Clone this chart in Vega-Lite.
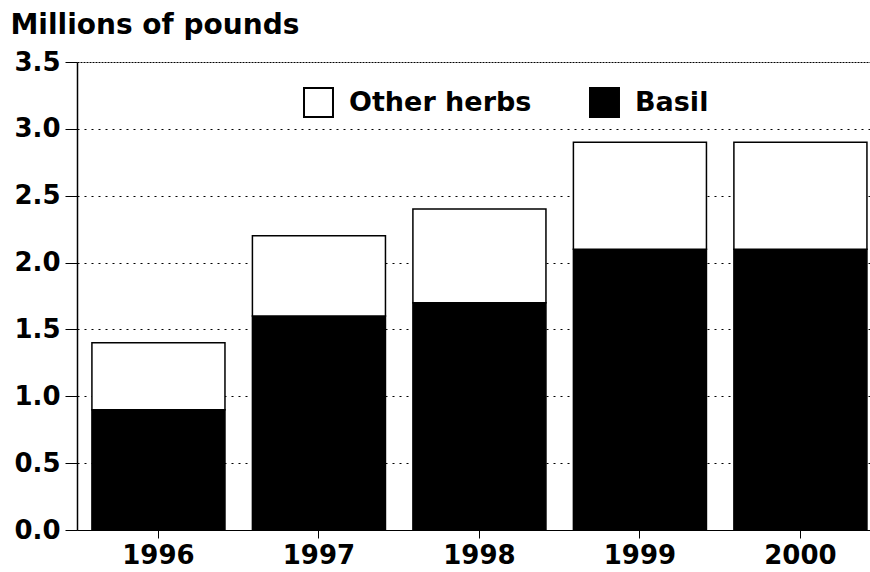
{
  "$schema": "https://vega.github.io/schema/vega-lite/v6.json",
  "width": 793,
  "height": 468,
  "autosize": "none",
  "padding": {"left": 77, "top": 62, "right": 0, "bottom": 42},
  "background": "white",
  "config": {
    "view": {"stroke": null},
    "font": "DejaVu Sans"
  },
  "data": {
    "values": [
      {"year": "1996", "type": "Basil", "value": 0.9},
      {"year": "1996", "type": "Other herbs", "value": 0.5},
      {"year": "1997", "type": "Basil", "value": 1.6},
      {"year": "1997", "type": "Other herbs", "value": 0.6},
      {"year": "1998", "type": "Basil", "value": 1.7},
      {"year": "1998", "type": "Other herbs", "value": 0.7},
      {"year": "1999", "type": "Basil", "value": 2.1},
      {"year": "1999", "type": "Other herbs", "value": 0.8},
      {"year": "2000", "type": "Basil", "value": 2.1},
      {"year": "2000", "type": "Other herbs", "value": 0.8}
    ]
  },
  "mark": {"type": "bar", "stroke": "black", "strokeWidth": 1.5},
  "encoding": {
    "x": {
      "field": "year",
      "type": "ordinal",
      "scale": {"paddingInner": 0.171, "paddingOuter": 0.056, "align": 0.83},
      "axis": {
        "title": null,
        "labelAngle": 0,
        "labelFont": "DejaVu Sans",
        "labelFontWeight": "bold",
        "labelFontSize": 26,
        "labelColor": "black",
        "labelPadding": 4,
        "tickSize": 8,
        "tickColor": "black",
        "domainColor": "black",
        "domainWidth": 1
      }
    },
    "y": {
      "field": "value",
      "type": "quantitative",
      "stack": "zero",
      "scale": {"domain": [0, 3.5], "nice": false},
      "axis": {
        "title": "Millions of pounds",
        "titleAngle": 0,
        "titleAlign": "left",
        "titleBaseline": "alphabetic",
        "titleX": -67,
        "titleY": -29,
        "titleFont": "DejaVu Sans",
        "titleFontWeight": "bold",
        "titleFontSize": 28,
        "titleColor": "black",
        "titleLimit": 0,
        "values": [0, 0.5, 1, 1.5, 2, 2.5, 3, 3.5],
        "format": ".1f",
        "labelFont": "DejaVu Sans",
        "labelFontWeight": "bold",
        "labelFontSize": 26,
        "labelColor": "black",
        "labelPadding": 5,
        "tickSize": 12,
        "tickColor": "black",
        "domainColor": "black",
        "domainWidth": 1.5,
        "grid": true,
        "gridColor": "black",
        "gridWidth": 1,
        "gridDash": {"condition": {"test": "datum.value === 3.5", "value": [2, 1]}, "value": [2, 5]}
      }
    },
    "color": {
      "field": "type",
      "type": "nominal",
      "scale": {"domain": ["Other herbs", "Basil"], "range": ["white", "black"]},
      "legend": {
        "title": null,
        "orient": "none",
        "direction": "horizontal",
        "legendX": 226,
        "legendY": 25,
        "symbolType": "square",
        "symbolSize": 840,
        "symbolStrokeColor": "black",
        "symbolStrokeWidth": 2,
        "symbolOpacity": 1,
        "labelFont": "DejaVu Sans",
        "labelFontWeight": "bold",
        "labelFontSize": 27,
        "labelColor": "black",
        "labelLimit": 0,
        "labelOffset": 15,
        "columnPadding": 54
      }
    },
    "order": {"field": "type", "sort": "ascending"}
  }
}
